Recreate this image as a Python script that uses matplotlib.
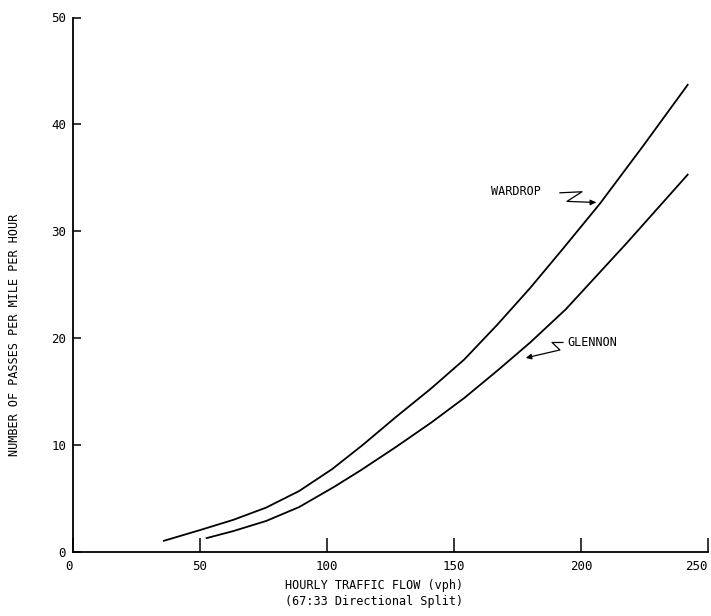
import matplotlib
matplotlib.use("Agg")
import matplotlib.pyplot as plt

# Data
wardrop_x = [35.8, 50, 63, 76, 89, 102, 114, 127, 141, 154, 167, 180, 193, 207.5, 224.5, 242]
wardrop_y = [1.05, 2.05, 3.0, 4.15, 5.7, 7.75, 10.0, 12.6, 15.3, 18.0, 21.25, 24.7, 28.4, 32.6, 38.0, 43.7]
glennon_x = [52.6, 63, 76, 89, 102.5, 113, 127, 141, 154, 167, 180, 194, 218, 242]
glennon_y = [1.3, 1.95, 2.9, 4.2, 6.05, 7.6, 9.8, 12.1, 14.4, 16.95, 19.6, 22.7, 28.9, 35.3]

x_ticks = [0, 50, 100, 150, 200, 250]
y_ticks = [0, 10, 20, 30, 40, 50]

FONT = "DejaVu Sans Mono"

fig = plt.figure(figsize=(7.11, 6.16), dpi=100)
ax = fig.add_axes([73/711, 1-552/616, (708-73)/711, (552-17.5)/616])
ax.set_xlim(0, 250)
ax.set_ylim(0, 50)

ax.plot(wardrop_x, wardrop_y, color="black", lw=1.3, solid_joinstyle="round")
ax.plot(glennon_x, glennon_y, color="black", lw=1.3, solid_joinstyle="round")

for s in ["top", "right"]:
    ax.spines[s].set_visible(False)
for s in ["left", "bottom"]:
    ax.spines[s].set_linewidth(1.3)

ax.set_xticks(x_ticks)
ax.set_yticks(y_ticks)
ax.set_xticklabels([str(v) for v in x_ticks], fontsize=9, family=FONT)
ax.set_yticklabels([str(v) for v in y_ticks], fontsize=9, family=FONT)
ax.tick_params(axis="x", direction="in", length=10, width=1.1, pad=6)
ax.tick_params(axis="y", direction="in", length=6, width=1.1, pad=5)
xl = ax.get_xticklabels()
xl[-1].set_horizontalalignment("right")
xl[0].set_horizontalalignment("right")

# Annotations
ax.text(164.6, 33.7, "WARDROP", fontsize=8.5, family=FONT, va="center", ha="left")
ax.plot([191.7, 200.4, 194.5, 205.5], [33.6, 33.7, 32.8, 32.7], color="black", lw=0.9)
ax.annotate("", xy=(207.0, 32.7), xytext=(203.0, 32.7),
            arrowprops=dict(arrowstyle="-|>", color="black", lw=0.9, mutation_scale=8))

ax.text(194.5, 19.6, "GLENNON", fontsize=8.5, family=FONT, va="center", ha="left")
ax.plot([192.9, 188.6, 191.7, 179.0], [19.6, 19.6, 18.9, 18.2], color="black", lw=0.9)
ax.annotate("", xy=(177.2, 18.1), xytext=(181.0, 18.3),
            arrowprops=dict(arrowstyle="-|>", color="black", lw=0.9, mutation_scale=8))

fig.text(374/711, 1-586/616, "HOURLY TRAFFIC FLOW (vph)", fontsize=8.5, family=FONT,
         ha="center", va="center")
fig.text(374/711, 1-601/616, "(67:33 Directional Split)", fontsize=8.5, family=FONT,
         ha="center", va="center")
fig.text(15/711, 1-335/616, "NUMBER OF PASSES PER MILE PER HOUR", fontsize=8.5, family=FONT,
         ha="center", va="center", rotation=90)

fig.savefig("out.png", dpi=100)
